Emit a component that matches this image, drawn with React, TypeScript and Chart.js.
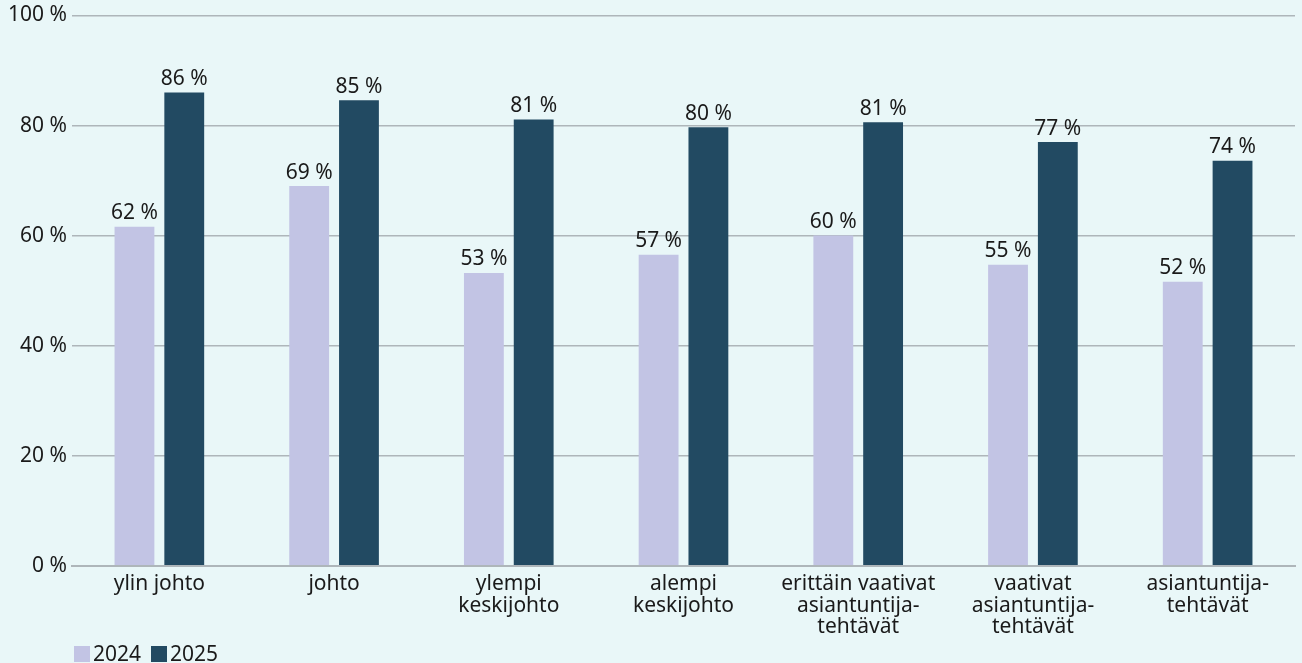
import React, { useEffect, useRef } from "react";
import { Chart, registerables } from "chart.js";

Chart.register(...registerables);

const categories: (string | string[])[] = [
  "ylin johto",
  "johto",
  ["ylempi", "keskijohto"],
  ["alempi", "keskijohto"],
  ["erittäin vaativat", "asiantuntija-", "tehtävät"],
  ["vaativat", "asiantuntija-", "tehtävät"],
  ["asiantuntija-", "tehtävät"],
];

const series2024 = [61.6, 69.0, 53.2, 56.5, 60.0, 54.7, 51.6];
const series2025 = [86.0, 84.6, 81.1, 79.7, 80.6, 77.0, 73.6];

const yTicks = [0, 20, 40, 60, 80, 100];

const COLOR_2024 = "#c2c4e4";
const COLOR_2025 = "#224a62";
const BG = "#e9f7f8";
const TEXT = "#1a1a1a";
const GRID = "#aeb6ba";
const FONT = "'Noto Sans', sans-serif";
const FS = 21;

const valueLabels = {
  id: "valueLabels",
  afterDatasetsDraw(chart: any) {
    const ctx = chart.ctx;
    ctx.save();
    ctx.font = `${FS}px ${FONT}`;
    ctx.fillStyle = TEXT;
    ctx.textAlign = "center";
    ctx.textBaseline = "bottom";
    chart.data.datasets.forEach((ds: any, di: number) => {
      const meta = chart.getDatasetMeta(di);
      meta.data.forEach((bar: any, i: number) => {
        ctx.fillText(`${Math.round(ds.data[i])} %`, bar.x, bar.y - 3);
      });
    });
    ctx.restore();
  },
};

export default function App() {
  const ref = useRef<HTMLCanvasElement>(null);

  useEffect(() => {
    document.body.style.margin = "0";
    const chart = new Chart(ref.current!, {
      type: "bar",
      data: {
        labels: categories,
        datasets: [
          {
            label: "2024",
            data: series2024,
            backgroundColor: COLOR_2024,
            barPercentage: 0.8,
            categoryPercentage: 0.57,
          },
          {
            label: "2025",
            data: series2025,
            backgroundColor: COLOR_2025,
            barPercentage: 0.8,
            categoryPercentage: 0.57,
          },
        ],
      },
      options: {
        animation: false,
        responsive: false,
        maintainAspectRatio: false,
        layout: { padding: { top: 4, right: 7, left: 0, bottom: 0 } },
        plugins: {
          legend: { display: false },
          tooltip: { enabled: false },
        },
        scales: {
          x: {
            grid: { display: false, drawTicks: false },
            border: { display: true, color: GRID, width: 2 },
            ticks: {
              color: TEXT,
              font: { family: FONT, size: FS, lineHeight: 1.02 },
              padding: 8,
              maxRotation: 0,
              autoSkip: false,
            },
          },
          y: {
            min: 0,
            max: 100,
            afterFit: (scale: any) => {
              scale.width = 72;
            },
            afterBuildTicks: (scale: any) => {
              scale.ticks = yTicks.map((v) => ({ value: v }));
            },
            grid: { color: GRID, lineWidth: 1.5, drawTicks: false },
            border: { display: false },
            ticks: {
              color: TEXT,
              font: { family: FONT, size: FS, lineHeight: 1.0 },
              padding: 5,
              callback: (v: any) => `${v} %`,
            },
          },
        },
      },
      plugins: [valueLabels],
    });
    return () => chart.destroy();
  }, []);

  const swatch = (color: string) => ({
    display: "inline-block",
    width: 16,
    height: 16,
    background: color,
    marginRight: 3,
  });

  return (
    <div
      style={{
        position: "absolute",
        left: 0,
        top: 0,
        width: 1302,
        height: 663,
        background: BG,
        overflow: "hidden",
      }}
    >
      <canvas ref={ref} width={1302} height={646} style={{ display: "block" }} />
      <div
        style={{
          position: "absolute",
          left: 74,
          top: 643,
          display: "flex",
          alignItems: "flex-end",
          fontFamily: FONT,
          fontSize: FS,
          color: TEXT,
          lineHeight: "21px",
        }}
      >
        <span style={{ display: "flex", alignItems: "center", marginRight: 10 }}>
          <span style={swatch(COLOR_2024)} />
          2024
        </span>
        <span style={{ display: "flex", alignItems: "center" }}>
          <span style={swatch(COLOR_2025)} />
          2025
        </span>
      </div>
    </div>
  );
}
